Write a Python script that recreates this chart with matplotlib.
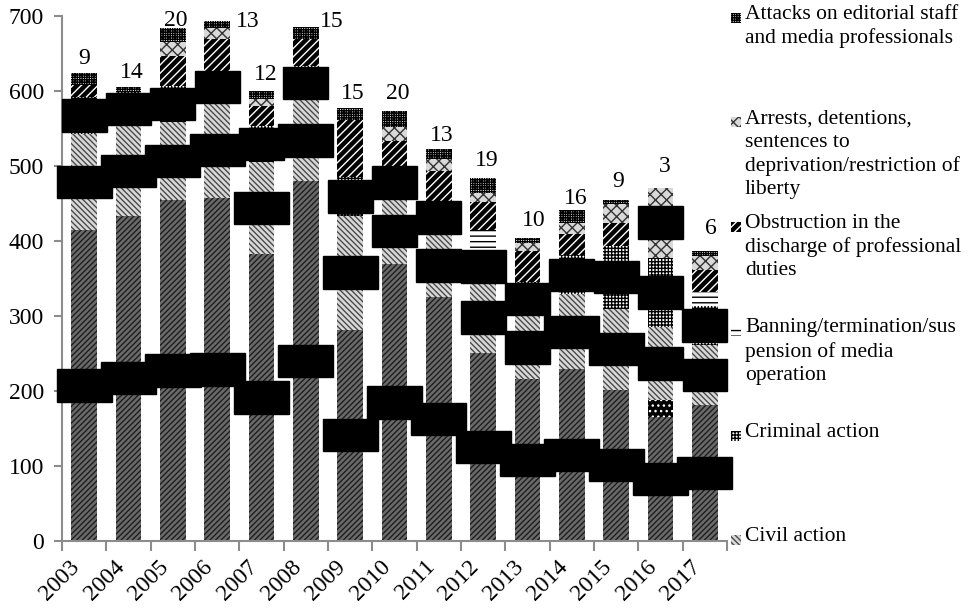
import matplotlib
matplotlib.use("Agg")
import matplotlib.pyplot as plt
from matplotlib.patches import Rectangle
import numpy as np

plt.rcParams["font.family"] = ["Liberation Serif", "DejaVu Serif"]
plt.rcParams["hatch.linewidth"] = 1.0

# Дані (знизу вгору в стовпчику)
years = [str(y) for y in range(2003, 2018)]
other = [415, 434, 455, 457, 383, 480, 282, 369, 325, 251, 216, 229, 202, 165, 181]
other_dots = [0, 0, 0, 0, 0, 0, 0, 0, 0, 0, 0, 0, 0, 23, 0]
civil = [128, 119, 104, 128, 122, 108, 152, 89, 85, 94, 84, 100, 108, 97, 81]
criminal = [49, 46, 48, 41, 49, 46, 51, 40, 43, 42, 45, 52, 84, 93, 51]
banning = [0, 0, 0, 0, 0, 0, 0, 0, 0, 28, 0, 0, 0, 0, 19]
obstruction = [16, 0, 40, 43, 26, 36, 76, 35, 41, 37, 42, 29, 30, 0, 30]
arrests = [0, 0, 19, 15, 9, 0, 0, 19, 16, 12, 10, 14, 26, 93, 18]
attacks = [16, 6, 18, 10, 11, 16, 17, 21, 13, 20, 7, 17, 5, 0, 7]
attack_labels = [9, 14, 20, 13, 12, 15, 15, 20, 13, 19, 10, 16, 9, 3, 6]

# (назва, дані, заливка, штрих, колір штриха, чи підписувати)
series = [
    ("_other", other, "#6a6a6a", "//////", "#1e1e1e", True),
    ("_dots", other_dots, "black", "...", "white", False),
    ("Civil action", civil, "#d9d9d9", "\\\\\\\\\\\\", "#4a4a4a", True),
    ("Criminal action", criminal, "white", "+++++", "black", True),
    ("Banning/termination/sus\npension of media\noperation", banning, "white", "---", "black", False),
    ("Obstruction in the\ndischarge of professional\nduties", obstruction, "black", "////", "white", False),
    ("Arrests, detentions,\nsentences to\ndeprivation/restriction of\nliberty", arrests, "#d9d9d9", "xxx", "#333333", True),
    ("Attacks on editorial staff\nand media professionals", attacks, "white", "+++++++", "black", False),
]

fig = plt.figure(figsize=(9.76, 6.12), dpi=100)
ax = fig.add_axes([62 / 976, 71 / 612, 665 / 976, 525 / 612])

x = np.arange(len(years))
bottom = np.zeros(len(years))
for name, vals, fc, hatch, hc, labelled in series:
    vals = np.array(vals, dtype=float)
    ax.bar(x, vals, width=0.58, bottom=bottom, color=fc, hatch=hatch,
           edgecolor=hc, linewidth=0, zorder=2)
    if labelled:
        for i, v in enumerate(vals):
            if v >= 30:
                ax.text(i, bottom[i] + v / 2, " %d " % v, ha="center", va="center",
                        fontsize=15, color="black", zorder=5, clip_on=False,
                        bbox=dict(boxstyle="square,pad=0.32", fc="black", ec="black"))
    bottom += vals

# підписи над стовпчиками
dx = [0, 3, 3, 31, 4, 26, 3, 3, 3, 4, 6, 4, 2, 4, 6]
dy = [15, 15, 8, -1, 16, 5, 14, 18, 13, 18, 18, 12, 18, 21, 22]
for i, lab in enumerate(attack_labels):
    ax.annotate(str(lab), (i, bottom[i]), xytext=(dx[i], dy[i]),
                textcoords="offset pixels", ha="center", va="center",
                fontsize=17, zorder=6, annotation_clip=False)

ax.set_xlim(-0.5, len(years) - 0.5)
ax.set_ylim(0, 700)
ax.set_yticks(range(0, 701, 100))
ax.set_xticks(np.arange(-0.5, len(years), 1))
ax.set_xticklabels([])
ax.set_xticks(x, minor=True)
ax.set_xticklabels(years, minor=True, rotation=45, ha="right", va="top")
ax.tick_params(axis="x", which="major", length=7, width=1.5, color="#8c8c8c", direction="out")
ax.tick_params(axis="x", which="minor", length=0, pad=11, labelsize=17)
ax.tick_params(axis="y", length=6, width=1.5, color="#8c8c8c", pad=7, labelsize=17)
for s in ["top", "right"]:
    ax.spines[s].set_visible(False)
for s in ["left", "bottom"]:
    ax.spines[s].set_color("#8c8c8c")
    ax.spines[s].set_linewidth(1.5)

# легенда вручну, рівні проміжки як в Excel
legend_items = series[2:][::-1]
for k, (name, vals, fc, hatch, hc, labelled) in enumerate(legend_items):
    yc = 18 + k * 104.4
    fig.patches.append(Rectangle((731 / 976, 1 - (yc + 5) / 612), 10 / 976, 10 / 612,
                                 transform=fig.transFigure, facecolor=fc, hatch=hatch,
                                 edgecolor=hc, linewidth=0))
    fig.text(745 / 976, 1 - (yc - 13) / 612, name, ha="left", va="top",
             fontsize=15.5, linespacing=1.3)

fig.savefig("out.png", dpi=100)
